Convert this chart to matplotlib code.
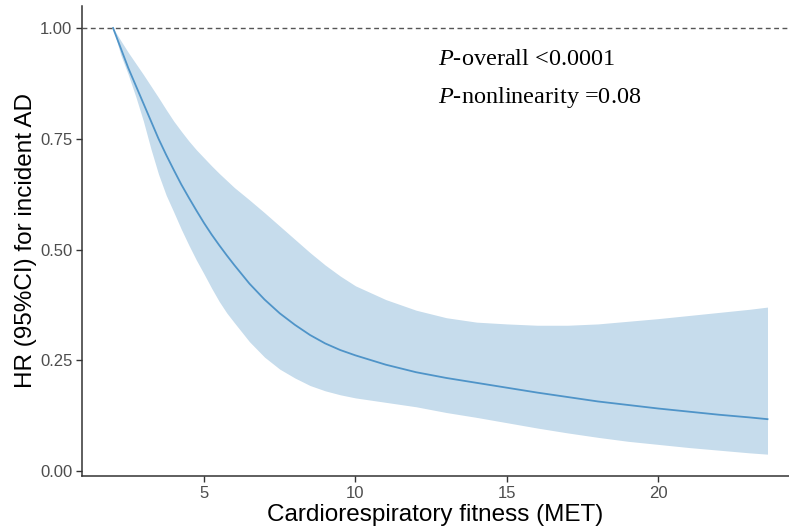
import numpy as np
import matplotlib
matplotlib.use("Agg")
import matplotlib.pyplot as plt

# restricted cubic spline: HR by cardiorespiratory fitness
met = [2.0, 2.25, 2.5, 2.75, 3.0, 3.25, 3.5, 3.75, 4.0, 4.25, 4.5, 4.75, 5.0,
       5.25, 5.5, 5.75, 6.0, 6.5, 7.0, 7.5, 8.0, 8.5, 9.0, 9.5, 10.0,
       11.0, 12.0, 13.0, 14.0, 15.0, 16.0, 17.0, 18.0, 19.0, 20.0, 21.0, 22.0,
       23.0, 23.6]
hr = [1.00, 0.955, 0.91, 0.87, 0.83, 0.79, 0.75, 0.714, 0.68, 0.647, 0.617,
      0.588, 0.56, 0.534, 0.51, 0.487, 0.465, 0.423, 0.387, 0.356, 0.33, 0.307,
      0.288, 0.273, 0.261, 0.24, 0.223, 0.21, 0.199, 0.188, 0.177, 0.167,
      0.157, 0.149, 0.141, 0.134, 0.127, 0.121, 0.117]
hr_low = [1.00, 0.94, 0.895, 0.845, 0.79, 0.727, 0.67, 0.623, 0.585, 0.546,
          0.51, 0.476, 0.445, 0.413, 0.383, 0.357, 0.335, 0.292, 0.257, 0.23,
          0.21, 0.193, 0.181, 0.172, 0.165, 0.155, 0.145, 0.132, 0.121, 0.109,
          0.097, 0.086, 0.076, 0.067, 0.06, 0.053, 0.047, 0.041, 0.038]
hr_high = [1.00, 0.972, 0.945, 0.92, 0.895, 0.869, 0.843, 0.816, 0.79, 0.767,
           0.745, 0.725, 0.707, 0.689, 0.672, 0.656, 0.64, 0.612, 0.583, 0.553,
           0.523, 0.493, 0.465, 0.44, 0.418, 0.387, 0.363, 0.346, 0.336, 0.332,
           0.329, 0.329, 0.332, 0.338, 0.344, 0.351, 0.358, 0.365, 0.37]

p_lines = [("P", "-overall <0.0001"), ("P", "-nonlinearity =0.08")]

plt.rcParams['font.family'] = ['Liberation Sans', 'DejaVu Sans']
plt.rcParams['mathtext.fontset'] = 'custom'
plt.rcParams['mathtext.rm'] = 'Liberation Serif'
plt.rcParams['mathtext.it'] = 'Liberation Serif:italic'

fig = plt.figure(figsize=(7.89, 5.28), dpi=100)
ax = fig.add_axes([82 / 789, 52 / 528, 707 / 789, 470 / 528])

ax.fill_between(met, hr_low, hr_high, color='#c6dcec', linewidth=0, zorder=1)
ax.plot(met, hr, color='#4f94c8', linewidth=1.3, zorder=2)
ax.axhline(1.0, color='#555555', linestyle=(0, (3.5, 2.5)), linewidth=1.0, zorder=3)

ax.set_xlim(0.974, 24.31)
ax.set_ylim(-0.0113, 1.0497)
ax.set_xticks([5, 10, 15, 20])
ax.set_yticks([0, 0.25, 0.5, 0.75, 1.0])
ax.set_yticklabels(['0.00', '0.25', '0.50', '0.75', '1.00'])

for side in ['top', 'right']:
    ax.spines[side].set_visible(False)
for side in ['left', 'bottom']:
    ax.spines[side].set_color('#333333')
    ax.spines[side].set_linewidth(1.1)
ax.tick_params(axis='both', colors='#333333', length=4, width=1.0,
               labelsize=12, labelcolor='#4d4d4d', pad=3)

ax.set_xlabel('Cardiorespiratory fitness (MET)', fontsize=17.5, color='black', labelpad=2)
ax.set_ylabel('HR (95%CI) for incident AD', fontsize=17.5, color='black')
ax.yaxis.set_label_coords(-0.064, 0.5)

y_txt = [0.917, 0.831]
for (p, rest), yy in zip(p_lines, y_txt):
    ax.text(12.72, yy, r'$\mathit{' + p + '}$' + rest, fontsize=17.5,
            family='Liberation Serif', color='black', va='baseline', ha='left')

fig.savefig('out.png', dpi=100)
